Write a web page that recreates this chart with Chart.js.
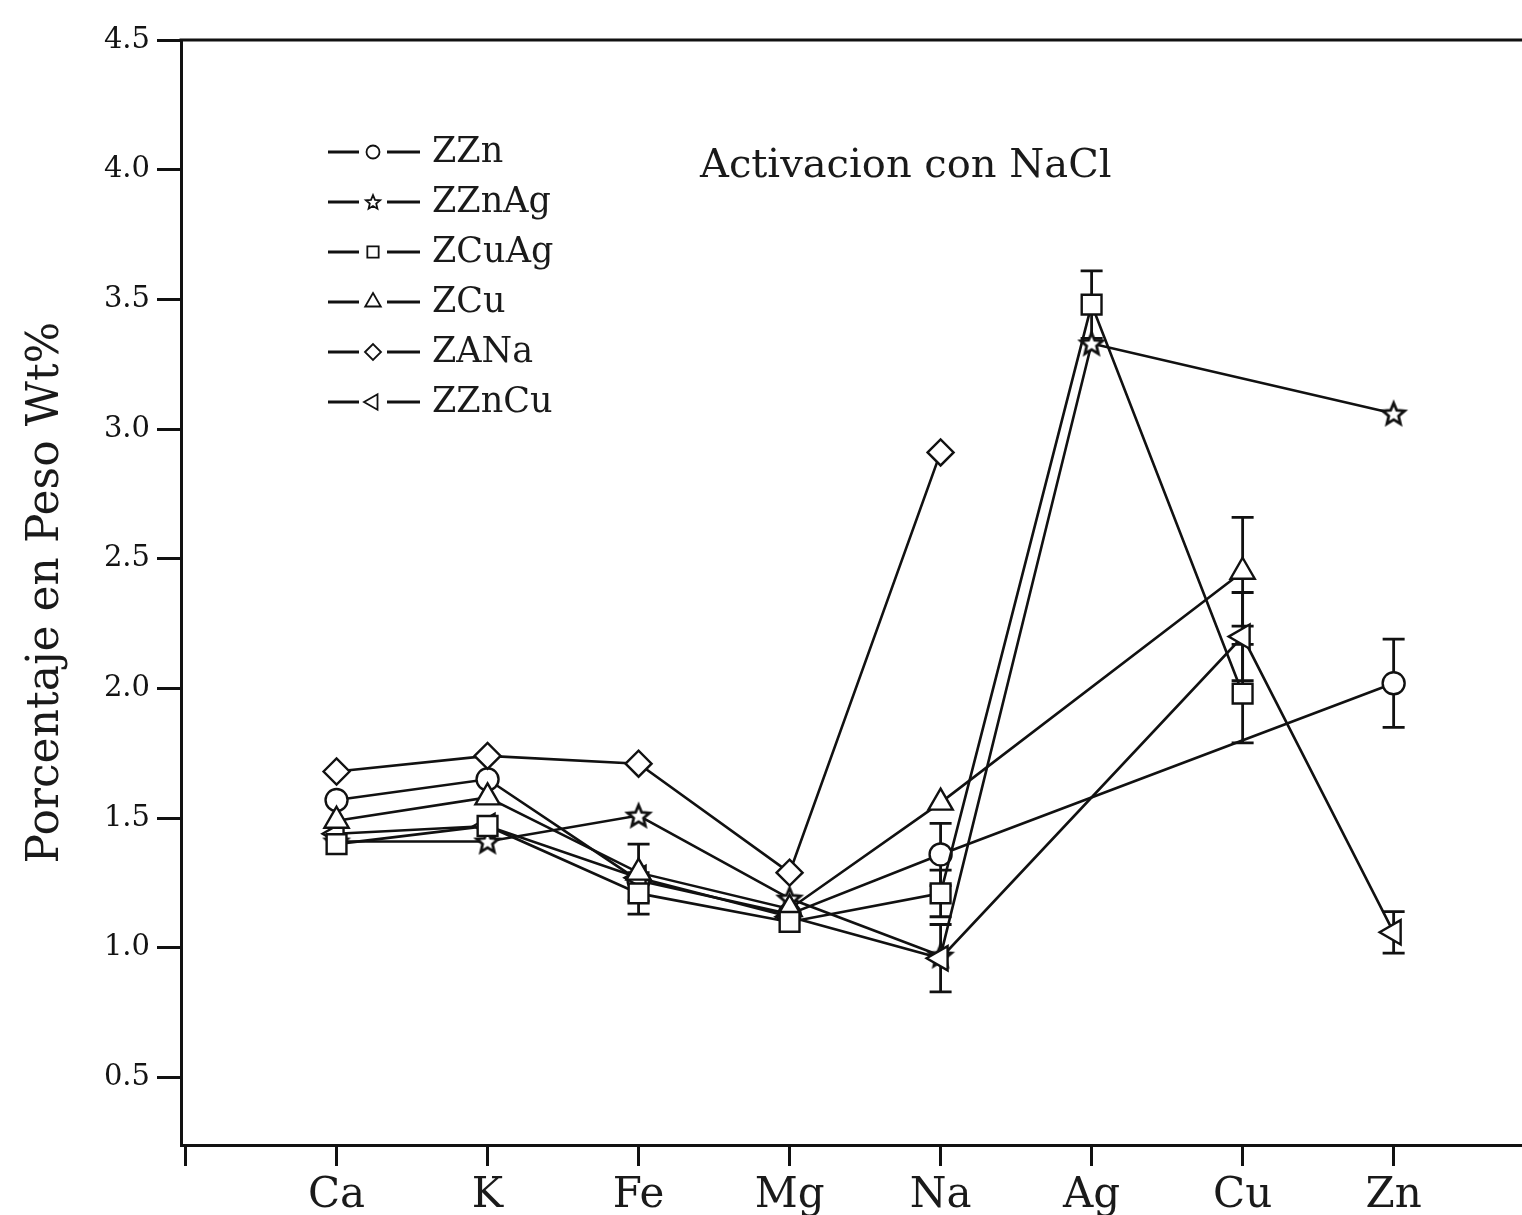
<!DOCTYPE html>
<html>
<head>
<meta charset="utf-8">
<script src="https://cdn.jsdelivr.net/npm/chart.js@4.4.1/dist/chart.umd.min.js"></script>
<style>
  html, body { margin: 0; padding: 0; background: #ffffff; overflow: hidden; }
  #wrap { width: 1522px; height: 1215px; position: relative; }
</style>
</head>
<body>
<div id="wrap"><canvas id="c" width="1522" height="1215"></canvas></div>
<script>
// ---------- data ----------
const categories = ['Ca', 'K', 'Fe', 'Mg', 'Na', 'Ag', 'Cu', 'Zn'];
const seriesNames = ['ZZn', 'ZZnAg', 'ZCuAg', 'ZCu', 'ZANa', 'ZZnCu'];

const zzn   = [1.57, 1.65, 1.26, 1.13, 1.36, null, null, 2.02];
const zznag = [1.41, 1.41, 1.51, 1.19, 0.97, 3.33, null, 3.06];
const zcuag = [1.40, 1.47, 1.21, 1.10, 1.21, 3.48, 1.98, null];
const zcu   = [1.49, 1.58, 1.29, 1.15, 1.56, null, 2.45, null];
const zana  = [1.68, 1.74, 1.71, 1.29, 2.91, null, null, null];
const zzncu = [1.44, 1.47, 1.27, 1.12, 0.96, null, 2.20, 1.06];

// symmetric error bar half-lengths (null = no bar)
const zznErr   = [null, null, null, null, 0.12, null, null, 0.17];
const zznagErr = [null, null, null, null, null, null, null, null];
const zcuagErr = [null, null, 0.08, null, 0.09, 0.13, 0.19, null];
const zcuErr   = [null, null, 0.11, null, null, null, 0.21, null];
const zanaErr  = [null, null, null, null, null, null, null, null];
const zzncuErr = [null, null, null, null, 0.13, null, 0.17, 0.08];

// drawing order (lower = drawn on top)
const drawOrder = [4, 5, 1, 2, 0, 3];

const yTickValues = [0.5, 1.0, 1.5, 2.0, 2.5, 3.0, 3.5, 4.0, 4.5];
const chartTitle = 'Activacion con NaCl';
const yTitle = 'Porcentaje en Peso Wt%';

// ---------- marker images ----------
function makeStar(size, R, lw) {
  const cv = document.createElement('canvas');
  cv.width = size; cv.height = size;
  const g = cv.getContext('2d');
  const cx = size / 2, cy = size / 2 + R * 0.08, r = R * 0.45;
  g.beginPath();
  for (let k = 0; k < 10; k++) {
    const rad = (k % 2 === 0) ? R : r;
    const a = -Math.PI / 2 + k * Math.PI / 5;
    const px = cx + rad * Math.cos(a), py = cy + rad * Math.sin(a);
    if (k === 0) g.moveTo(px, py); else g.lineTo(px, py);
  }
  g.closePath();
  g.fillStyle = '#ffffff';
  g.fill();
  g.lineWidth = lw;
  g.lineJoin = 'miter';
  g.strokeStyle = '#111111';
  g.stroke();
  return cv;
}
const starBig = makeStar(30, 11.5, 2.8);
const starSmall = makeStar(20, 7.5, 1.8);

const styles = [
  { pointStyle: 'circle',  radius: 11, rotation: 0,   legendStyle: 'circle',  legendRadius: 6.5 },
  { pointStyle: starBig,   radius: 11, rotation: 0,   legendStyle: starSmall, legendRadius: 7 },
  { pointStyle: 'rect',    radius: 14, rotation: 0,   legendStyle: 'rect',    legendRadius: 8 },
  { pointStyle: 'triangle',radius: 14, rotation: 0,   legendStyle: 'triangle',legendRadius: 9 },
  { pointStyle: 'rectRot', radius: 13, rotation: 0,   legendStyle: 'rectRot', legendRadius: 8 },
  { pointStyle: 'triangle',radius: 14, rotation: -90, legendStyle: 'triangle',legendRadius: 9 }
];
const values = [zzn, zznag, zcuag, zcu, zana, zzncu];
const errors = [zznErr, zznagErr, zcuagErr, zcuErr, zanaErr, zzncuErr];

function toPoints(arr) {
  const pts = [];
  arr.forEach((v, i) => { if (v !== null) pts.push({ x: i, y: v }); });
  return pts;
}

const INK = '#111111';
const datasets = seriesNames.map((name, k) => ({
  label: name,
  data: toPoints(values[k]),
  errors: errors[k],
  order: drawOrder[k],
  borderColor: INK,
  borderWidth: 2.6,
  tension: 0,
  fill: false,
  pointStyle: styles[k].pointStyle,
  pointRadius: styles[k].radius,
  pointRotation: styles[k].rotation,
  pointBackgroundColor: '#ffffff',
  pointBorderColor: INK,
  pointBorderWidth: 2.4,
  pointHoverRadius: styles[k].radius
}));

// ---------- plugins ----------
const errorBars = {
  id: 'errorBars',
  beforeDatasetsDraw(chart) {
    const ctx = chart.ctx, xs = chart.scales.x, ys = chart.scales.y;
    ctx.save();
    ctx.strokeStyle = INK;
    ctx.lineWidth = 2.8;
    chart.data.datasets.forEach((ds, k) => {
      const vals = values[k];
      ds.errors.forEach((e, i) => {
        if (e === null || vals[i] === null) return;
        const x = xs.getPixelForValue(i);
        const yt = ys.getPixelForValue(vals[i] + e);
        const yb = ys.getPixelForValue(vals[i] - e);
        ctx.beginPath();
        ctx.moveTo(x, yt); ctx.lineTo(x, yb);
        ctx.moveTo(x - 11, yt); ctx.lineTo(x + 11, yt);
        ctx.moveTo(x - 11, yb); ctx.lineTo(x + 11, yb);
        ctx.stroke();
      });
    });
    ctx.restore();
  }
};

const frameAndText = {
  id: 'frameAndText',
  afterDraw(chart) {
    const ctx = chart.ctx, a = chart.chartArea;
    ctx.save();
    // top frame line
    ctx.strokeStyle = INK;
    ctx.lineWidth = 3;
    ctx.beginPath();
    ctx.moveTo(a.left - 1.5, a.top);
    ctx.lineTo(a.right, a.top);
    ctx.stroke();

    // inner title
    ctx.fillStyle = '#1a1a1a';
    ctx.font = '40px "DejaVu Serif"';
    ctx.textAlign = 'left';
    ctx.textBaseline = 'alphabetic';
    ctx.fillText(chartTitle, 700, 177);

    // legend
    const rowY0 = 152, rowGap = 50;
    ctx.font = '35px "DejaVu Serif"';
    seriesNames.forEach((name, k) => {
      const y = rowY0 + k * rowGap;
      ctx.strokeStyle = INK;
      ctx.lineWidth = 3;
      ctx.beginPath();
      ctx.moveTo(328, y); ctx.lineTo(359, y);
      ctx.moveTo(387, y); ctx.lineTo(420, y);
      ctx.stroke();
      ctx.fillStyle = '#ffffff';
      ctx.strokeStyle = INK;
      ctx.lineWidth = 1.8;
      Chart.helpers.drawPoint(ctx, {
        pointStyle: styles[k].legendStyle,
        radius: styles[k].legendRadius,
        rotation: styles[k].rotation,
        borderWidth: 1.8
      }, 373, y);
      ctx.fillStyle = '#1a1a1a';
      ctx.textBaseline = 'middle';
      ctx.fillText(name, 432, y + 1);
    });
    ctx.restore();
  }
};

// ---------- chart ----------
new Chart(document.getElementById('c'), {
  type: 'line',
  data: { datasets },
  options: {
    responsive: false,
    animation: false,
    devicePixelRatio: 1,
    layout: { autoPadding: false, padding: { top: 40, right: 0, left: 0, bottom: 0 } },
    plugins: {
      legend: { display: false },
      tooltip: { enabled: false },
      title: { display: false }
    },
    scales: {
      x: {
        type: 'linear',
        min: -1.03,
        max: 7.85,
        afterBuildTicks(scale) {
          scale.ticks = [-1, 0, 1, 2, 3, 4, 5, 6, 7].map(v => ({ value: v }));
        },
        afterFit(scale) {
          scale.height = 70;
          scale.paddingLeft = 0;
          scale.paddingRight = 0;
        },
        ticks: {
          autoSkip: false,
          maxRotation: 0,
          padding: 5,
          color: '#1a1a1a',
          font: { family: 'DejaVu Serif', size: 42 },
          callback: (v) => (v >= 0 && v < categories.length) ? categories[v] : ''
        },
        grid: {
          display: true,
          drawOnChartArea: false,
          drawTicks: true,
          tickLength: 21,
          tickWidth: 3,
          tickColor: INK
        },
        border: { display: true, color: INK, width: 3 }
      },
      y: {
        type: 'linear',
        min: 0.24,
        max: 4.5,
        afterBuildTicks(scale) {
          scale.ticks = yTickValues.map(v => ({ value: v }));
        },
        afterFit(scale) { scale.width = 181; },
        ticks: {
          padding: 7,
          color: '#141414',
          font: { family: 'DejaVu Serif', size: 29 },
          callback: (v) => Number(v).toFixed(1)
        },
        grid: {
          display: true,
          drawOnChartArea: false,
          drawTicks: true,
          tickLength: 24,
          tickWidth: 3,
          tickColor: INK
        },
        border: { display: true, color: INK, width: 3 },
        title: {
          display: true,
          text: yTitle,
          color: '#1a1a1a',
          font: { family: 'DejaVu Serif', size: 44 },
          padding: { top: 20, bottom: 0 }
        }
      }
    }
  },
  plugins: [errorBars, frameAndText]
});
</script>
</body>
</html>
